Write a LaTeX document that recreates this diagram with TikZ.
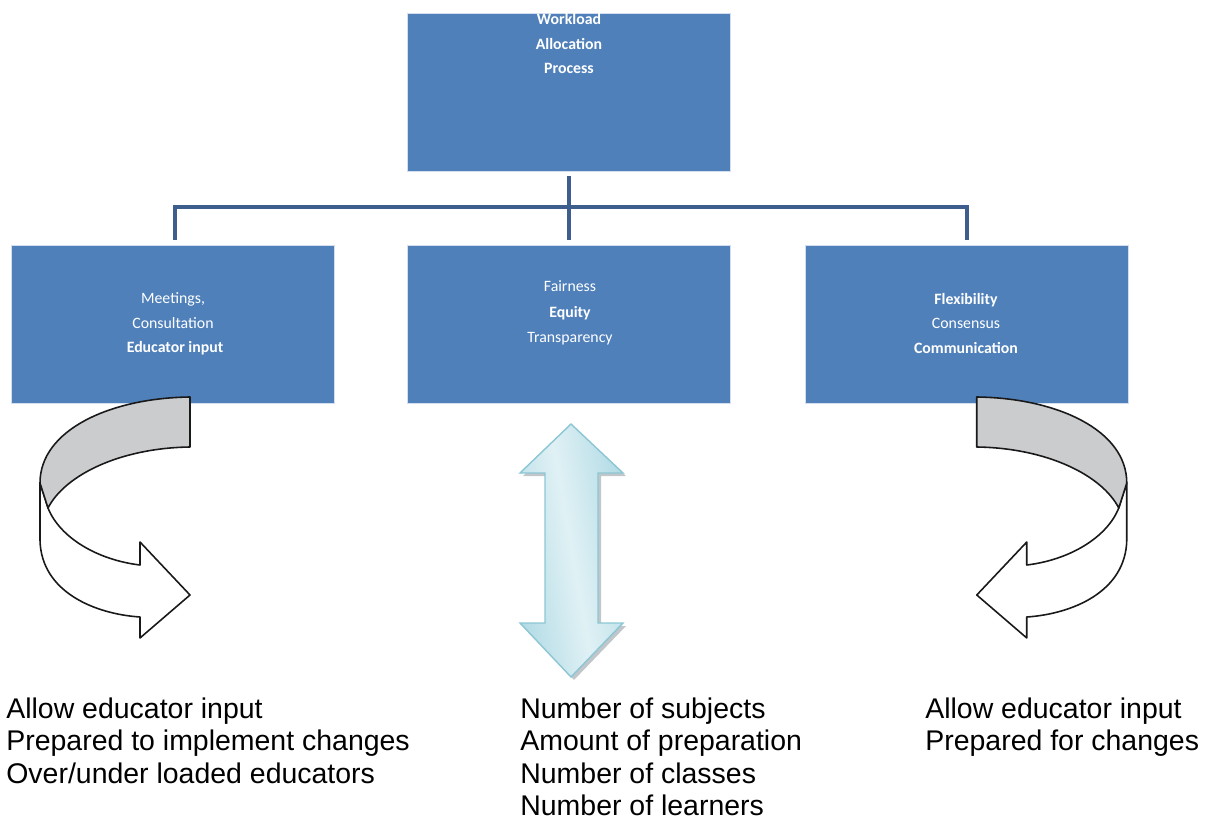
\documentclass[tikz,border=0pt]{standalone}
\usepackage{fontspec}
\newfontfamily\carlito{Carlito}
\newfontfamily\arialf{Liberation Sans}
\definecolor{boxblue}{RGB}{79,128,186}
\definecolor{linkblue}{RGB}{62,94,142}
\definecolor{bandgray}{RGB}{203,204,206}
\definecolor{arrowlight}{RGB}{224,241,245}
\definecolor{arrowmid}{RGB}{178,219,229}
\definecolor{arrowedge}{RGB}{140,198,212}
\definecolor{shadowgray}{RGB}{150,160,165}
\begin{document}
\begin{tikzpicture}[x=0.02cm,y=-0.02cm,
  blockbox/.style={fill=boxblue, draw=white!75!boxblue, line width=0.4pt, minimum width=6.46cm, minimum height=3.16cm, inner sep=0, outer sep=0},
  boxtext/.style={text=white, font=\carlito\fontsize{9}{11}\selectfont, inner sep=0, anchor=base},
  boldtext/.style={text=white, font=\carlito\bfseries\fontsize{9}{11}\selectfont, inner sep=0, anchor=base},
  conn/.style={draw=linkblue, line width=0.08cm},
  note/.style={font=\arialf\fontsize{16.2}{18.5}\selectfont, inner sep=0, anchor=base west},
  band/.style={draw=black!90, line width=0.9pt, line join=round}
]
\useasboundingbox (0,0) rectangle (1208,821);

% boxes
\node[blockbox] (top) at (569,92) {};
\node[blockbox] (lbox) at (172.5,324) {};
\node[blockbox] (mbox) at (569,324) {};
\node[blockbox] (rbox) at (966.5,324) {};

% box texts
\node[boldtext] (t1) at (569,25) {Workload};
\node[boldtext] (t2) at (569,50) {Allocation};
\node[boldtext] (t3) at (569,74) {Process};

\node[boxtext] (l1) at (173,303) {Meetings,};
\node[boxtext] (l2) at (173,328) {Consultation};
\node[boldtext] (l3) at (175,352) {Educator input};

\node[boxtext] (m1) at (570,292) {Fairness};
\node[boldtext] (m2) at (570,317) {Equity};
\node[boxtext] (m3) at (570,342) {Transparency};

\node[boldtext] (r1) at (966,304) {Flexibility};
\node[boxtext] (r2) at (966,328) {Consensus};
\node[boldtext] (r3) at (966,353) {Communication};

% connectors
\coordinate (bus) at (569,207);
\draw[conn] ([yshift=-0.1cm]top.south) -- ([yshift=0.1cm]mbox.north);
\draw[conn] ([xshift=1.5pt,yshift=0.1cm]lbox.north) |- (bus) -| ([yshift=0.1cm]rbox.north);

% left curved arrow
\filldraw[band, fill=white] (40,483) -- (40,540) .. controls (41,592) and (95,614) .. (140,617)
  -- (140,638) -- (190,595) -- (140,542) -- (140,565)
  .. controls (98,560) and (60,538) .. (48,508) -- cycle;
\filldraw[band, fill=bandgray] (190,397) .. controls (110,398) and (40,430) .. (40,483)
  -- (48,508) .. controls (65,475) and (120,448) .. (190,447) -- cycle;

% right curved arrow (mirror)
\begin{scope}[xshift=23.34cm, xscale=-1]
\filldraw[band, fill=white] (40,483) -- (40,540) .. controls (41,592) and (95,614) .. (140,617)
  -- (140,638) -- (190,595) -- (140,542) -- (140,565)
  .. controls (98,560) and (60,538) .. (48,508) -- cycle;
\filldraw[band, fill=bandgray] (190,397) .. controls (110,398) and (40,430) .. (40,483)
  -- (48,508) .. controls (65,475) and (120,448) .. (190,447) -- cycle;
\end{scope}

% double arrow
\fill[shadowgray, opacity=0.6] (574,427) -- (626,476) -- (601,476) -- (601,626) -- (626,626) -- (574,680) -- (523,626) -- (548,626) -- (548,476) -- (523,476) -- cycle;
\path[draw=arrowedge, line width=0.8pt, line join=miter, left color=arrowmid, right color=arrowmid, middle color=arrowlight, shading angle=100]
  (571,424) -- (623,473) -- (598,473) -- (598,623) -- (623,623) -- (571,677)
  -- (520,623) -- (545,623) -- (545,473) -- (520,473) -- cycle;

% bottom notes
\node[note] (a1) at (6,718) {Allow educator input};
\node[note] (a2) at (6,750.5) {Prepared to implement changes};
\node[note] (a3) at (6,783) {Over/under loaded educators};

\node[note] (b1) at (520,718) {Number of subjects};
\node[note] (b2) at (520,750.5) {Amount of preparation};
\node[note] (b3) at (520,783) {Number of classes};
\node[note] (b4) at (520,815.5) {Number of learners};

\node[note] (c1) at (925,718) {Allow educator input};
\node[note] (c2) at (925,750.5) {Prepared for changes};
\end{tikzpicture}
\end{document}
